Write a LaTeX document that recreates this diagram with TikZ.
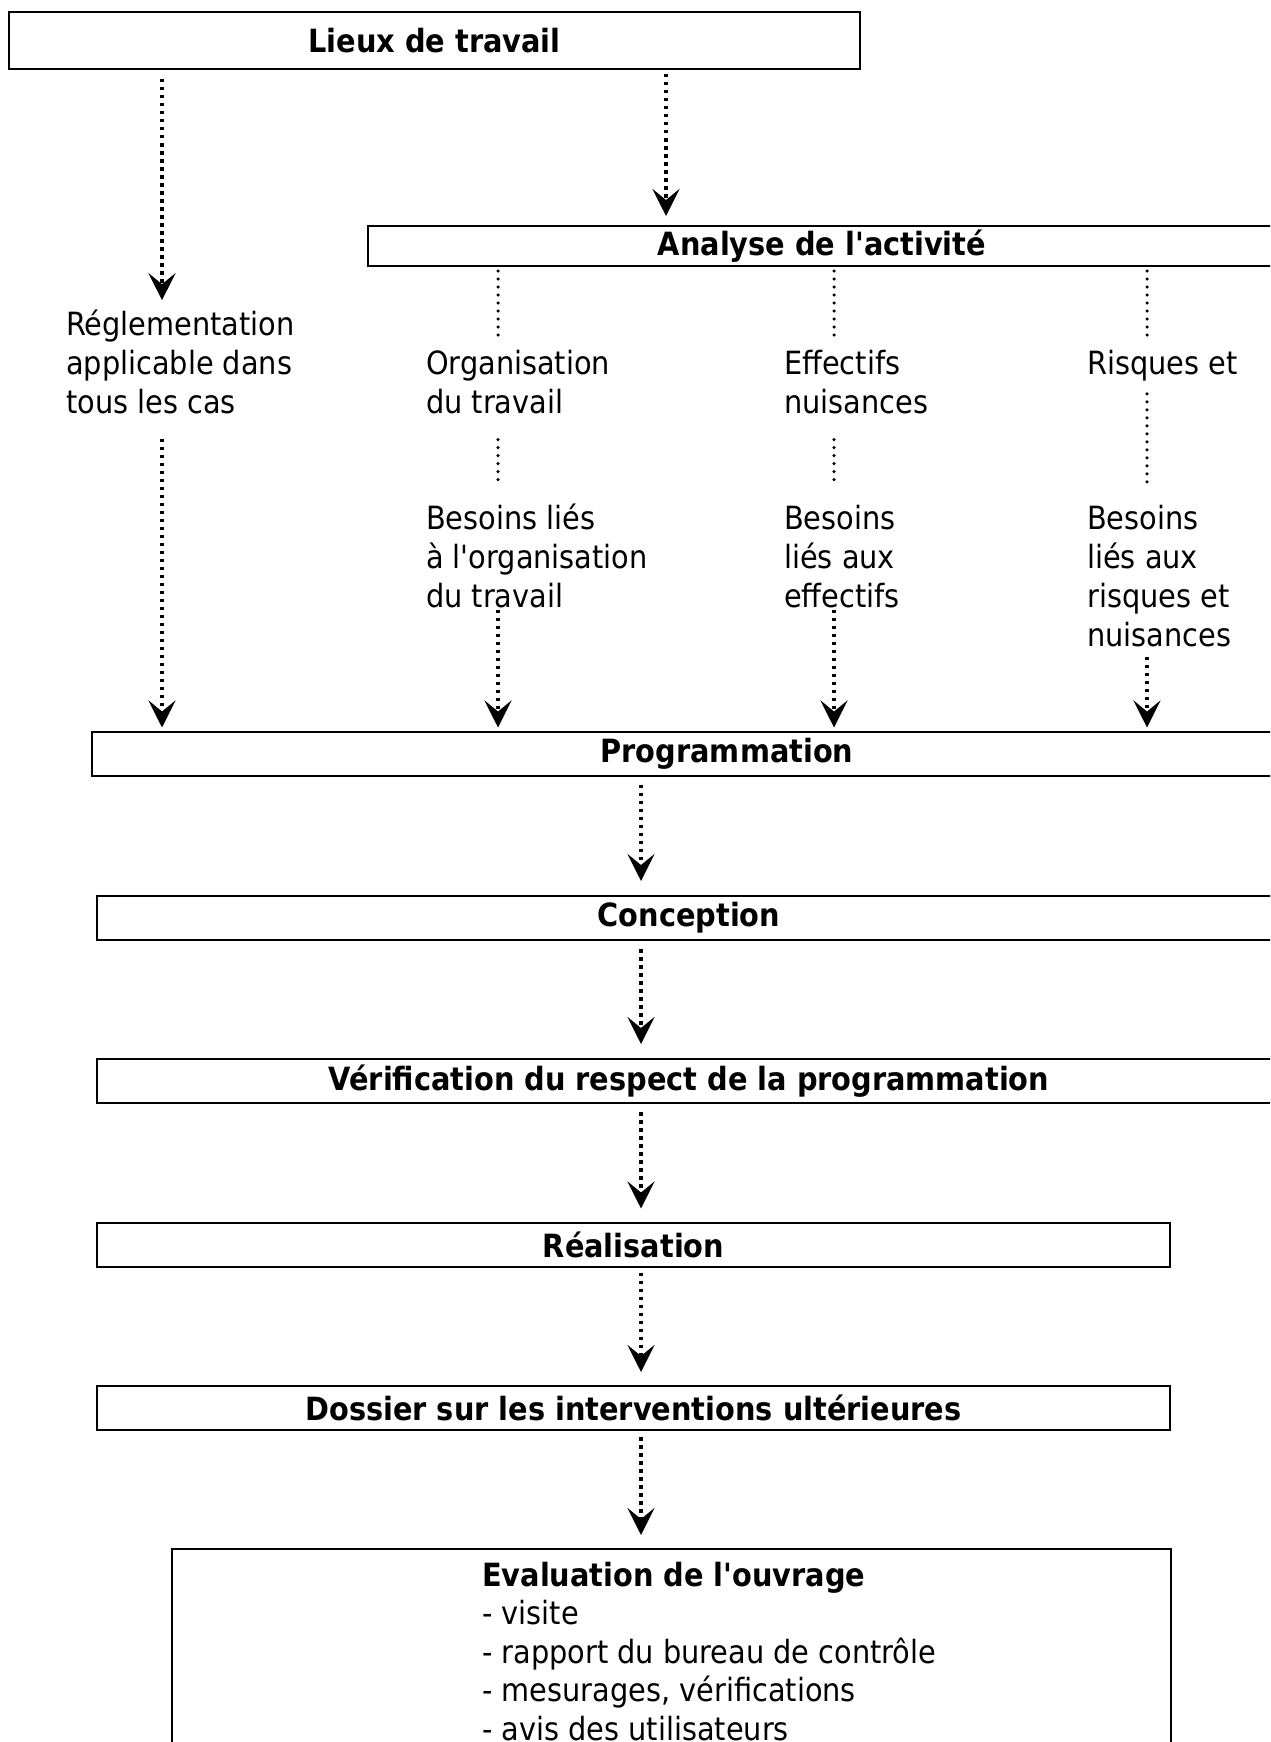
\documentclass[tikz,border=0pt]{standalone}
\usepackage{fontspec}
\setmainfont{DejaVu Sans Condensed}[Ligatures=TeXOff]
\usetikzlibrary{arrows.meta}
\tikzset{
  box/.style={draw,line width=2pt,inner sep=0pt,font=\bfseries},
  txt/.style={inner sep=0pt,anchor=base west,align=left},
  flow/.style={line width=4pt,dash pattern=on 3.5pt off 4.5pt,
    -{Stealth[length=27pt,width=27pt,inset=11pt]}},
  link/.style={line width=3.5pt,line cap=round,dash pattern=on 0pt off 8pt},
}
\begin{document}
\begin{tikzpicture}[x=1pt,y=-1pt]
\fontsize{32}{39}\selectfont
\useasboundingbox (0,0) rectangle (1270,1742);
\clip (0,0) rectangle (1270,1742);
% columns
\coordinate (c1) at (162,0);
\coordinate (c2) at (498,0);
\coordinate (c3) at (834,0);
\coordinate (c4) at (1147,0);
\coordinate (cm) at (641,0);
\coordinate (ca) at (666,0);
% boxes
\node[box,minimum width=851pt,minimum height=57pt] (lieux) at (434.5,40.5) {Lieux de travail};
\node[box,minimum width=908pt,minimum height=40pt] (analyse) at (822,246) {Analyse de l'activité};
\node[box,minimum width=1270pt,minimum height=44pt] (prog) at (727,753.5) {Programmation};
\node[box,minimum width=1184pt,minimum height=44pt] (conception) at (689,918) {Conception};
\node[box,minimum width=1184pt,minimum height=44pt] (verif) at (689,1081) {Vérification du respect de la programmation};
\node[box,minimum width=1073pt,minimum height=44pt] (realisation) at (633.5,1244.5) {Réalisation};
\node[box,minimum width=1073pt,minimum height=44pt] (dossier) at (633.5,1408) {Dossier sur les interventions ultérieures};
\node[box,minimum width=999pt,minimum height=240pt,anchor=north west] (evaluation) at (171,1548) {};
% texts (base = last line)
\node[txt] (regl) at (66,413) {Réglementation\\applicable dans\\tous les cas};
\node[txt] (orga) at (426,413) {Organisation\\du travail};
\node[txt] (effectifs) at (784,413) {Effectifs\\nuisances};
\node[txt] (risques) at (1087,374) {Risques et};
\node[txt] (besorga) at (426,607) {Besoins liés\\à l'organisation\\du travail};
\node[txt] (beseff) at (784,607) {Besoins\\liés aux\\effectifs};
\node[txt] (besrisq) at (1087,646) {Besoins\\liés aux\\risques et\\nuisances};
\node[txt,font=\fontsize{32}{38.5}\selectfont] (evaltxt) at (482,1740) {\textbf{Evaluation de l'ouvrage}\\- visite\\- rapport du bureau de contrôle\\- mesurages, vérifications\\- avis des utilisateurs};
% connectors
\draw[flow,shorten <=9pt,shorten >=9pt] (lieux.south -| c1) -- (regl.north -| c1);
\draw[flow,shorten <=4pt,shorten >=9pt] (lieux.south -| ca) -- (analyse.north -| ca);
\draw[link,shorten <=4pt,shorten >=13pt] (analyse.south -| c2) -- (orga.north -| c2);
\draw[link,shorten <=4pt,shorten >=13pt] (analyse.south -| c3) -- (effectifs.north -| c3);
\draw[link,shorten <=4pt,shorten >=13pt] (analyse.south -| c4) -- (risques.north -| c4);
\draw[link,shorten <=26pt,shorten >=22pt] (orga.south -| c2) -- (besorga.north -| c2);
\draw[link,shorten <=26pt,shorten >=22pt] (effectifs.south -| c3) -- (beseff.north -| c3);
\draw[link,shorten <=13pt,shorten >=22pt] (risques.south -| c4) -- (besrisq.north -| c4);
\draw[flow,shorten <=25pt,shorten >=3pt] (regl.south -| c1) -- (prog.north -| c1);
\draw[flow,shorten <=2pt,shorten >=3pt] (besorga.south -| c2) -- (prog.north -| c2);
\draw[flow,shorten <=2pt,shorten >=3pt] (beseff.south -| c3) -- (prog.north -| c3);
\draw[flow,shorten <=10pt,shorten >=3pt] (besrisq.south -| c4) -- (prog.north -| c4);
\draw[flow,shorten <=8pt,shorten >=14pt] (prog.south -| cm) -- (conception.north -| cm);
\draw[flow,shorten <=8pt,shorten >=14pt] (conception.south -| cm) -- (verif.north -| cm);
\draw[flow,shorten <=8pt,shorten >=13pt] (verif.south -| cm) -- (realisation.north -| cm);
\draw[flow,shorten <=5pt,shorten >=13pt] (realisation.south -| cm) -- (dossier.north -| cm);
\draw[flow,shorten <=6pt,shorten >=13pt] (dossier.south -| cm) -- (evaluation.north -| cm);
\end{tikzpicture}
\end{document}
